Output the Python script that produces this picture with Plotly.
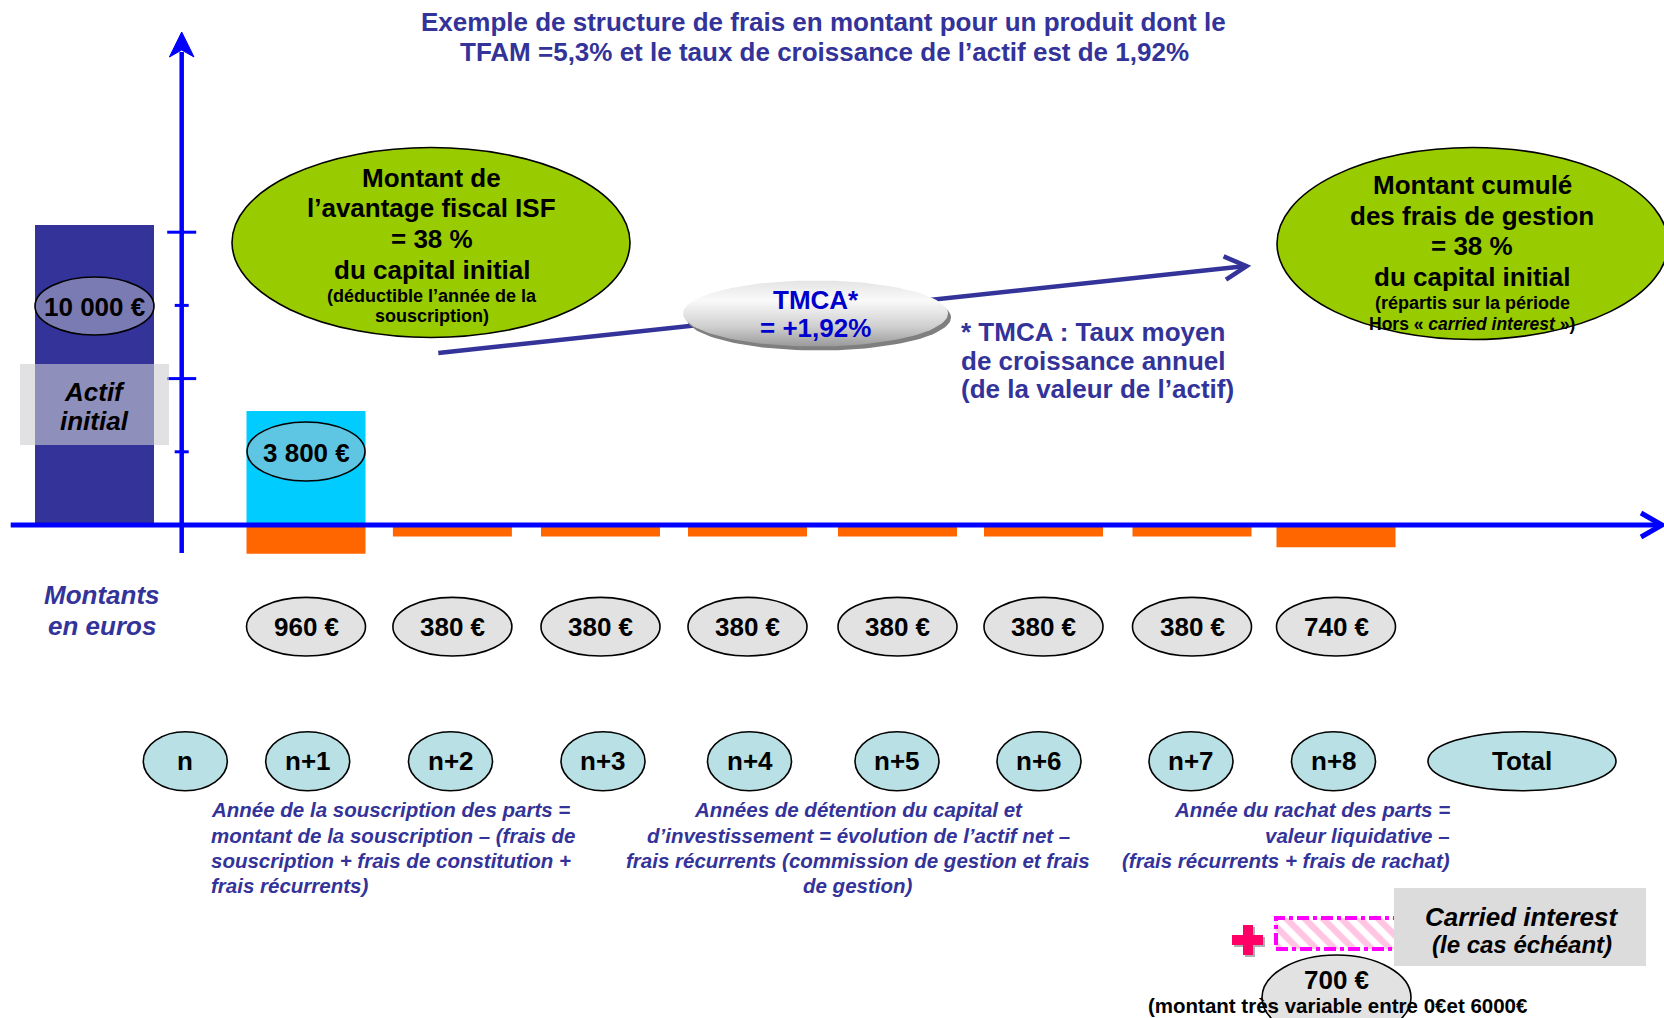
import numpy as np
import plotly.graph_objects as go

W, H = 1664, 1018

# ---------------- data ----------------
years = ["n", "n+1", "n+2", "n+3", "n+4", "n+5", "n+6", "n+7", "n+8"]
total_label = "Total"
initial_asset = 10000          # Actif initial (€)
tax_benefit = 3800             # avantage fiscal ISF (€)
annual_fees = [960, 380, 380, 380, 380, 380, 380, 740]   # frais n+1 .. n+8 (€)
carried_interest = 700         # € (le cas échéant)
benefit_pct = 38
cumulated_fees_pct = 38
tmca_pct = "1,92"

# ---------------- layout constants (pixels) ----------------
AXIS_PX = 525.0           # pixel row of the 0 € line
PX_PER_EUR = 0.0300
BAR_W = 119
initial_x = 94.5
fee_x = [306, 452.4, 600.5, 747.5, 897.5, 1043.5, 1192, 1336]
year_x = [185.3, 307.7, 450.5, 603, 749.5, 897, 1039, 1191, 1333.5]
total_x = 1522
YEAR_CY, YEAR_RX, YEAR_RY = 761.2, 42, 29.5
AMT_CY, AMT_RX, AMT_RY = 626.7, 59.5, 29.3
TICK_PX = 73.2

NAVY = "#333399"
AXBLUE = "#0000ff"
FONT = "Liberation Sans, Arial, sans-serif"


def ey(p):
    """pixel row -> euros on the data axis"""
    return (AXIS_PX - p) / PX_PER_EUR


def fmt_eur(v):
    return f"{v:,}".replace(",", " ") + " €"


shapes = []
ann = []


def ellipse(x0, y0, x1, y1, fill, lc="black", lw=1.6, layer="above"):
    shapes.append(dict(type="circle", xref="paper", yref="paper", layer=layer,
                       x0=x0 / W, x1=x1 / W, y0=1 - y1 / H, y1=1 - y0 / H,
                       fillcolor=fill, line=dict(color=lc, width=lw)))


def rect(x0, y0, x1, y1, fill, lc=None, lw=0, dash=None, layer="above"):
    ln = dict(width=lw)
    if lc:
        ln["color"] = lc
    if dash:
        ln["dash"] = dash
    shapes.append(dict(type="rect", xref="paper", yref="paper", layer=layer,
                       x0=x0 / W, x1=x1 / W, y0=1 - y1 / H, y1=1 - y0 / H,
                       fillcolor=fill, line=ln))


def seg(x0, y0, x1, y1, color, width, layer="above"):
    shapes.append(dict(type="line", xref="paper", yref="paper", layer=layer,
                       x0=x0 / W, x1=x1 / W, y0=1 - y0 / H, y1=1 - y1 / H,
                       line=dict(color=color, width=width)))


def path(pts, color, width=0, fill=None, close=False, layer="above"):
    d = "M " + " L ".join(f"{x / W:.5f},{1 - y / H:.5f}" for x, y in pts)
    if close:
        d += " Z"
    shapes.append(dict(type="path", xref="paper", yref="paper", layer=layer, path=d,
                       fillcolor=fill if fill else "rgba(0,0,0,0)",
                       line=dict(color=color, width=width)))


def T(x, y, s, size=26, color="black", weight="bold", style="normal", xanchor="center"):
    ann.append(dict(x=x / W, y=1 - y / H, xref="paper", yref="paper", text=s,
                    showarrow=False, xanchor=xanchor, yanchor="middle",
                    font=dict(family=FONT, size=size, color=color, weight=weight, style=style)))


fig = go.Figure()

# ---------------- bars ----------------
fig.add_trace(go.Bar(x=[initial_x], y=[initial_asset], width=BAR_W,
                     marker=dict(color="#333399", line=dict(width=0)), hoverinfo="skip"))
fig.add_trace(go.Bar(x=[fee_x[0]], y=[tax_benefit], width=BAR_W,
                     marker=dict(color="#00ccff", line=dict(width=0)), hoverinfo="skip"))
fig.add_trace(go.Bar(x=fee_x, y=[-v for v in annual_fees], width=BAR_W,
                     marker=dict(color="#ff6600", line=dict(width=0)), hoverinfo="skip"))

# hatched carried-interest box
ci_x = fee_x[-1]
fig.add_trace(go.Bar(x=[ci_x], base=[ey(949)], y=[ey(918) - ey(949)], width=121,
                     marker=dict(color="white", line=dict(width=0),
                                 pattern=dict(shape="\\", fgcolor="#ff8cc6", bgcolor="white",
                                              size=13, solidity=0.5)),
                     hoverinfo="skip"))

# TMCA arrow line (below the TMCA ellipse)
seg(438.3, 352.9, 1244, 266.3, NAVY, 4.5, layer="below")
path([(1223.6, 256.4), (1246.5, 266.2), (1226, 279.6)], NAVY, 4.5, layer="below")

# TMCA ellipse with gradient and shadow
t = np.linspace(0, 2 * np.pi, 120)
cx, cy, rx, ry = 815.5, 313.5, 132.5, 33
fig.add_trace(go.Scatter(x=cx + 3 + rx * np.cos(t), y=ey(cy + 4 + ry * np.sin(t)),
                         mode="lines", line=dict(width=0), fill="toself",
                         fillcolor="#7f7f7f", hoverinfo="skip"))
fig.add_trace(go.Scatter(x=cx + rx * np.cos(t), y=ey(cy + ry * np.sin(t)),
                         mode="lines", line=dict(width=0), fill="toself",
                         fillgradient=dict(type="vertical",
                                           colorscale=[[0, "#9a9a9a"], [0.3, "#cfcfcf"],
                                                       [0.7, "#fafafa"], [1, "#e4e4e4"]]),
                         hoverinfo="skip"))

# ---------------- axes (drawn) ----------------
seg(10.7, AXIS_PX, 1660, AXIS_PX, AXBLUE, 5)
path([(1641, 513), (1662, 525), (1641, 537)], AXBLUE, 5)
seg(181.7, 52, 181.7, 553, AXBLUE, 4.5)
path([(169.4, 57), (181.7, 32), (194, 57), (181.7, 50)], AXBLUE, 1, fill=AXBLUE, close=True)
for k in range(1, 5):
    yy = AXIS_PX - k * TICK_PX
    half = 14.5 if k % 2 == 0 else 7
    seg(181.7 - half, yy, 181.7 + half, yy, AXBLUE, 3)

# ---------------- labels on bars ----------------
ellipse(35, 277, 154, 335, "#7b7bb4")
T(94.5, 306.5, fmt_eur(initial_asset))
rect(20, 364, 169, 445, "rgba(205,205,210,0.6)")
T(94.5, 391.5, "Actif", style="italic")
T(94.5, 420.5, "initial", style="italic")
ellipse(247, 422, 365, 481, "#5ec6e2")
T(306, 452.5, fmt_eur(tax_benefit))

# ---------------- green ellipses ----------------
ellipse(232, 147.5, 630, 337.5, "#99cc00")
T(431.5, 177.5, "Montant de")
T(431.5, 208, "l’avantage fiscal ISF")
T(431.5, 239, f"= {benefit_pct} %")
T(431.5, 270, "du capital initial")
T(431.5, 295.5, "(déductible l’année de la", size=18)
T(431.5, 316, "souscription)", size=18)

ellipse(1277, 147.5, 1668, 339.5, "#99cc00")
T(1472, 185, "Montant cumulé")
T(1472, 216, "des frais de gestion")
T(1472, 246.5, f"= {cumulated_fees_pct} %")
T(1472, 277, "du capital initial")
T(1472, 303.5, "(répartis sur la période", size=18)
T(1472, 324, "Hors « <i>carried interest</i> »)", size=17.5)

# TMCA texts
T(815.5, 300, "TMCA*", color="#0000cc")
T(815.5, 328, f"= +{tmca_pct}%", color="#0000cc")
T(959, 332, "* TMCA : Taux moyen", color=NAVY, xanchor="left")
T(959, 360.7, "de croissance annuel", color=NAVY, xanchor="left")
T(959, 389.3, "(de la valeur de l’actif)", color=NAVY, xanchor="left")

# title
T(823.5, 21.5, "Exemple de structure de frais en montant pour un produit dont le", color=NAVY)
T(824, 52, "TFAM =5,3% et le taux de croissance de l’actif est de 1,92%", color=NAVY)

# ---------------- amounts row ----------------
T(102, 595, "Montants", color=NAVY, style="italic")
T(102, 626, "en euros", color=NAVY, style="italic")
for xc, v in zip(fee_x, annual_fees):
    ellipse(xc - AMT_RX, AMT_CY - AMT_RY, xc + AMT_RX, AMT_CY + AMT_RY, "#e2e2e2")
    T(xc, AMT_CY, fmt_eur(v))

# ---------------- years row ----------------
for xc, lab in zip(year_x, years):
    ellipse(xc - YEAR_RX, YEAR_CY - YEAR_RY, xc + YEAR_RX, YEAR_CY + YEAR_RY, "#b9e0e4")
    T(xc, YEAR_CY, lab)
ellipse(1428, YEAR_CY - YEAR_RY, 1616, YEAR_CY + YEAR_RY, "#b9e0e4")
T(total_x, YEAR_CY, total_label)

# ---------------- descriptions ----------------
DS = 20.5
ly = [809.3, 835, 860, 885]
left_txt = ["Année de la souscription des parts =",
            "montant de la souscription – (frais de",
            "souscription + frais de constitution +",
            "frais récurrents)"]
for yy, s in zip(ly, left_txt):
    T(209, yy, s, size=DS, color=NAVY, style="italic", xanchor="left")
mid_txt = ["Années de détention du capital et",
           "d’investissement = évolution de l’actif net –",
           "frais récurrents (commission de gestion et frais",
           "de gestion)"]
for yy, s in zip(ly, mid_txt):
    T(858, yy, s, size=DS, color=NAVY, style="italic")
right_txt = ["Année du rachat des parts =",
             "valeur liquidative –",
             "(frais récurrents + frais de rachat)"]
for yy, s in zip(ly, right_txt):
    T(1451.5, yy, s, size=DS, color=NAVY, style="italic", xanchor="right")

# ---------------- carried interest ----------------
rect(1276, 918, 1397, 949, "rgba(0,0,0,0)", lc="#ff00ff", lw=4, dash="dashdot")
rect(1394, 888, 1646, 966, "#dcdcdc")
T(1521.5, 917, "Carried interest", style="italic")
T(1521.5, 944, "(le cas échéant)", size=24, style="italic")
# pink plus with shadow
rect(1234, 937, 1265, 947, "#b0b0b0")
rect(1245, 927, 1255, 957, "#b0b0b0")
rect(1232, 935, 1263, 945, "#ff0066")
rect(1243, 925, 1253, 955, "#ff0066")
ellipse(1262, 955, 1411, 1040, "#e2e2e2")
T(1336.5, 980, fmt_eur(carried_interest))
T(1338, 1005.5, "(montant très variable entre 0€et 6000€", size=20.5)

fig.update_layout(
    width=W, height=H, margin=dict(l=0, r=0, t=0, b=0),
    paper_bgcolor="white", plot_bgcolor="white",
    barmode="overlay", showlegend=False,
    xaxis=dict(range=[0, W], visible=False, fixedrange=True),
    yaxis=dict(range=[ey(H), ey(0)], visible=False, fixedrange=True),
    shapes=shapes, annotations=ann,
)

fig.write_html("out.html", include_plotlyjs=True, config={"displayModeBar": False},
               post_script="document.body.style.margin='0';document.body.style.overflow='hidden';")
